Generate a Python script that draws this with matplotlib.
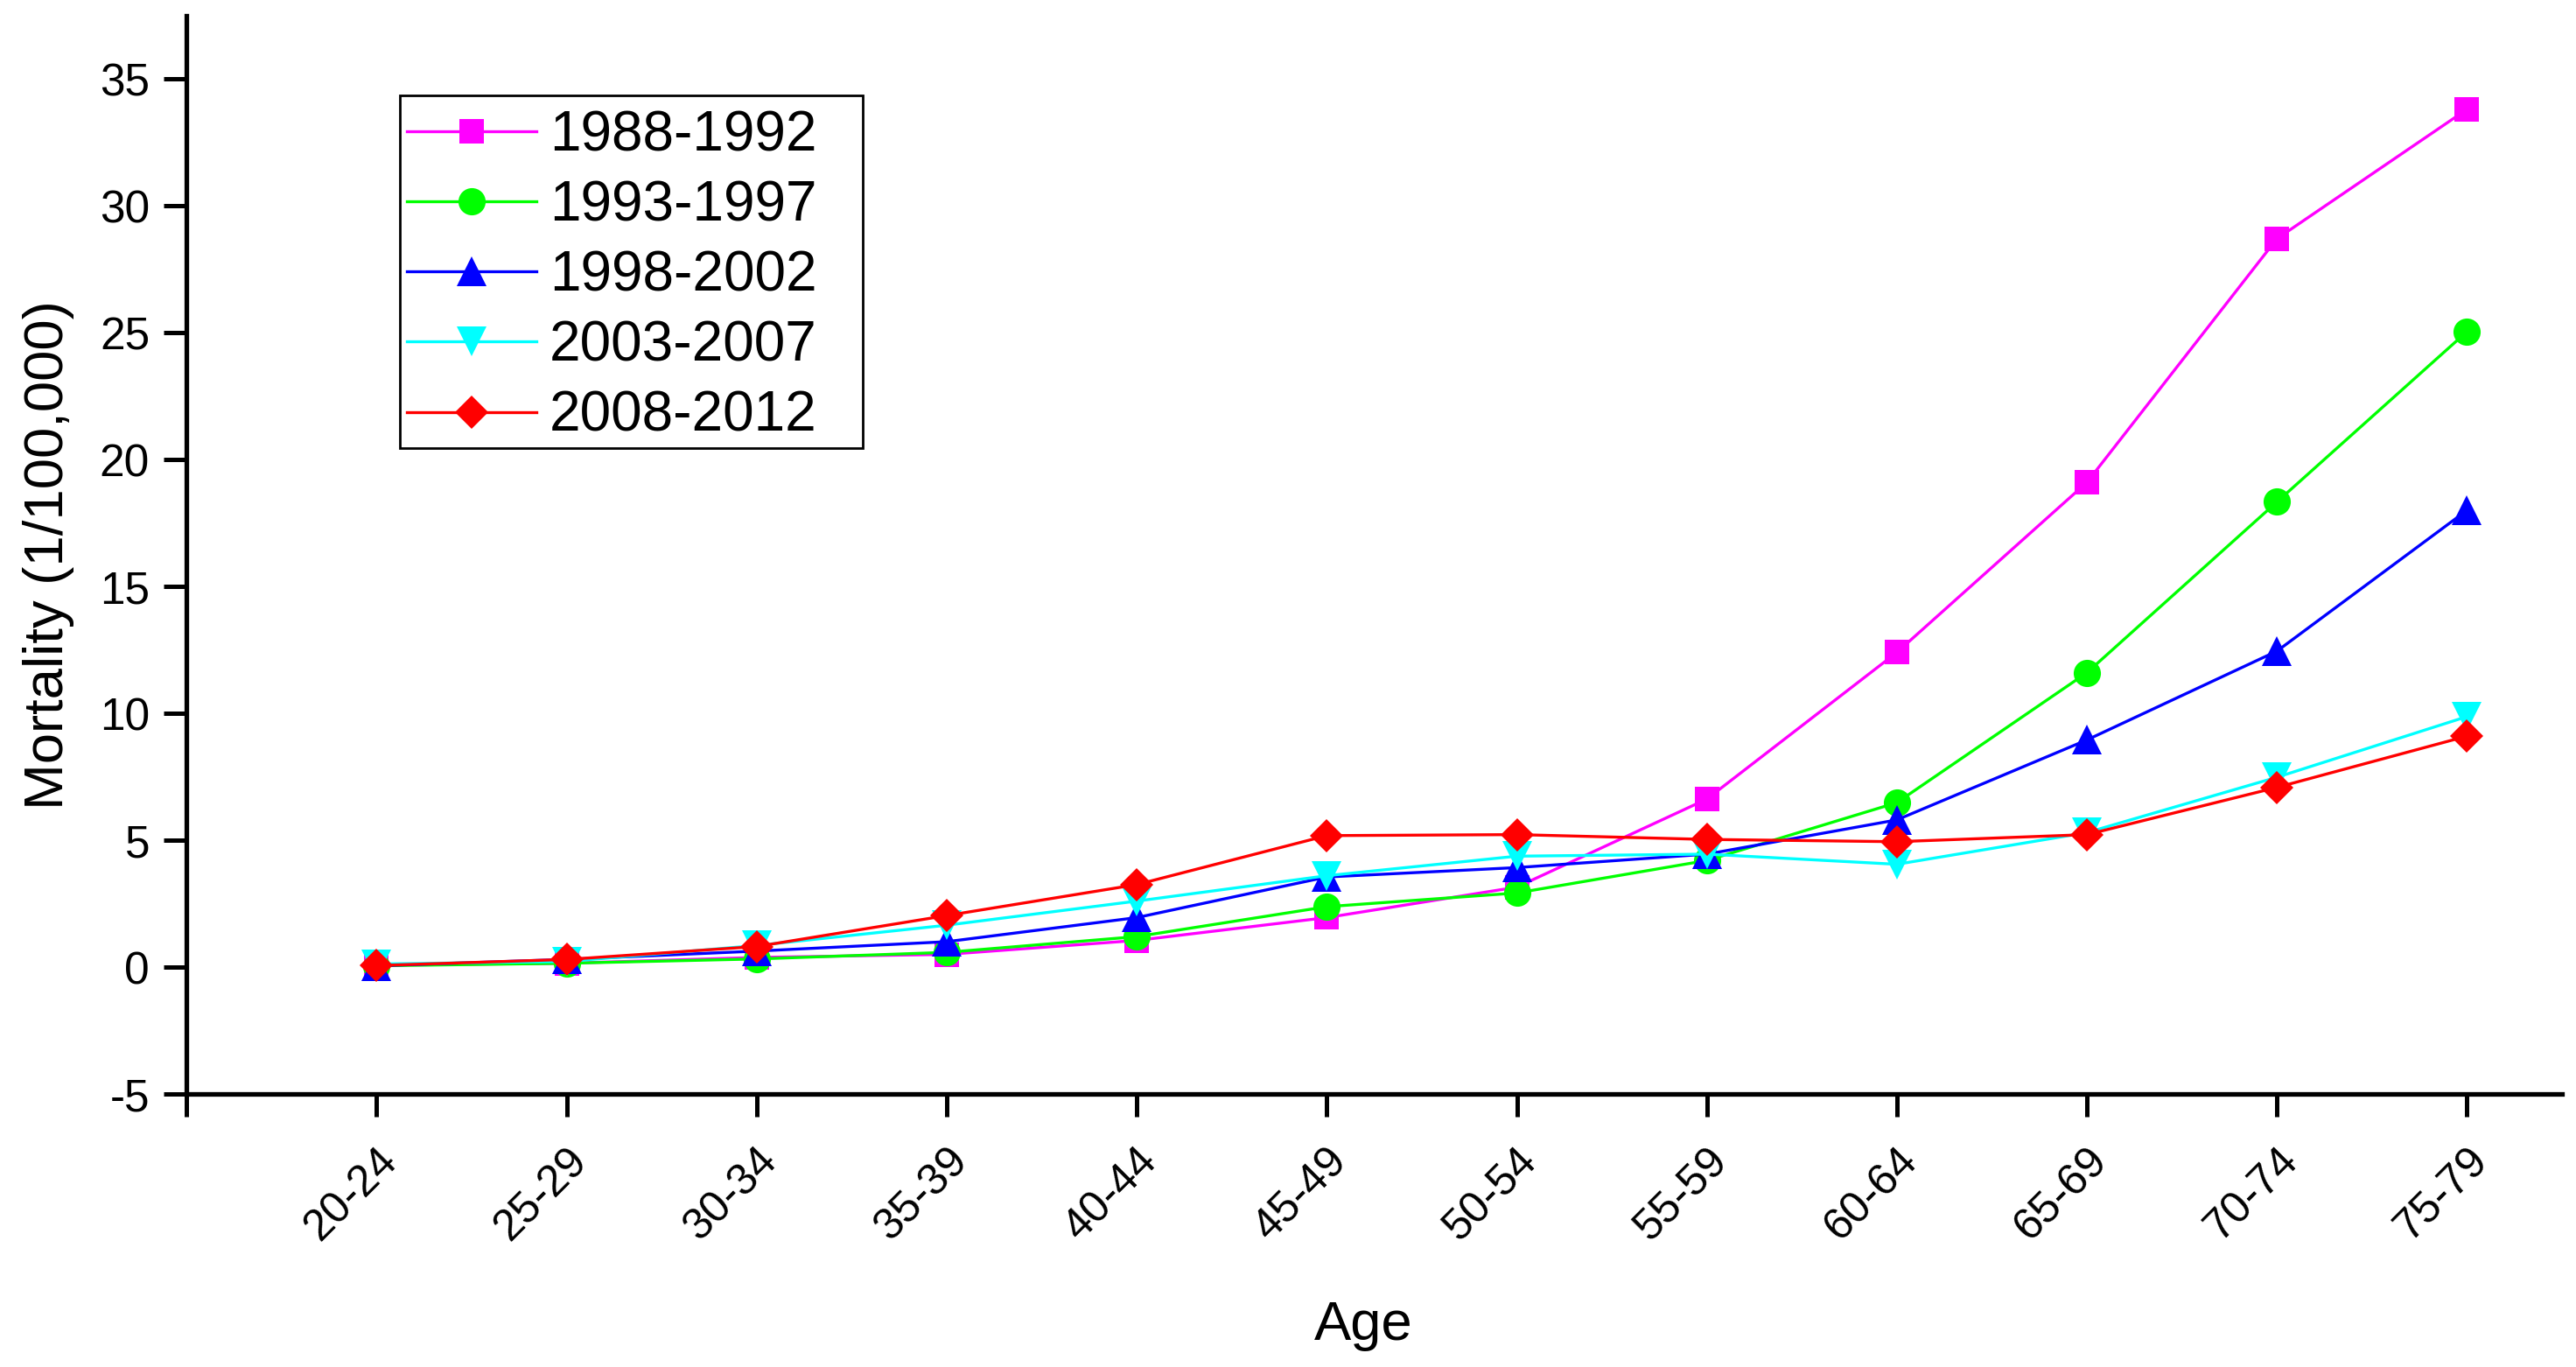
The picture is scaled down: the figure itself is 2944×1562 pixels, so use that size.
import numpy as np
import matplotlib
matplotlib.use('Agg')
import matplotlib.pyplot as plt
import matplotlib.transforms as mtransforms
from matplotlib.patches import Rectangle

plt.rcParams['font.family'] = ['Liberation Sans', 'DejaVu Sans']
plt.rcParams['axes.unicode_minus'] = False

# age groups and mortality per 100,000 for each period
ages = ['20-24', '25-29', '30-34', '35-39', '40-44', '45-49',
        '50-54', '55-59', '60-64', '65-69', '70-74', '75-79']
p1988 = [0.08, 0.15, 0.38, 0.50, 1.05, 1.95, 3.15, 6.62, 12.4, 19.1, 28.7, 33.8]
p1993 = [0.05, 0.15, 0.32, 0.58, 1.20, 2.38, 2.92, 4.20, 6.48, 11.6, 18.33, 25.04]
p1998 = [0.05, 0.30, 0.63, 1.00, 1.95, 3.55, 3.92, 4.45, 5.80, 8.95, 12.45, 18.0]
p2003 = [0.12, 0.22, 0.85, 1.65, 2.60, 3.60, 4.37, 4.45, 4.05, 5.30, 7.48, 9.87]
p2008 = [0.06, 0.30, 0.81, 2.03, 3.25, 5.18, 5.22, 5.03, 4.94, 5.22, 7.08, 9.10]

series = [
    ('1988-1992', p1988, '#FF00FF', 's', 9.8),
    ('1993-1997', p1993, '#00FF00', 'o', 11.2),
    ('1998-2002', p1998, '#0000FF', '^', 12.5),
    ('2003-2007', p2003, '#00FFFF', 'v', 12.5),
    ('2008-2012', p2008, '#FF0000', 'D', 9.5),
]

fig = plt.figure(figsize=(14.72, 7.81), dpi=200)
ax = fig.add_axes([0.07245, 0.19974, 0.92211, 0.78880])

x = np.arange(1, len(ages) + 1)
for label, vals, col, mk, ms in series:
    ax.plot(x, vals, color=col, marker=mk, markersize=ms, linewidth=1.2,
            markeredgewidth=0, label=label, clip_on=False)

ax.set_xlim(0, 12.5)
ax.set_ylim(-5, 37.49)
ax.set_yticks(np.arange(-5, 36, 5))
ax.set_xticks(np.arange(0, 13))
ax.set_xticklabels([''] + ages, rotation=45, ha='right', va='top',
                   rotation_mode='anchor')
# nudge the rotated labels a little to the right, as in the original
offset = mtransforms.ScaledTranslation(7 / 200, 0, fig.dpi_scale_trans)
for lbl in ax.get_xticklabels():
    lbl.set_transform(lbl.get_transform() + offset)

for side in ['top', 'right']:
    ax.spines[side].set_visible(False)
for side in ['left', 'bottom']:
    ax.spines[side].set_linewidth(1.9)

ax.tick_params(axis='both', direction='out', length=9.2, width=1.8)
ax.tick_params(axis='x', pad=10, labelsize=18)
ax.tick_params(axis='y', pad=6, labelsize=18.5)

ax.set_ylabel('Mortality (1/100,000)', fontsize=22.8)
ax.yaxis.set_label_coords(-0.0473, 0.5)
ax.set_xlabel('Age', fontsize=22.8, va='baseline')
ax.xaxis.set_label_coords(0.4953, -0.2278)

# legend without its own frame; box drawn separately to match the original layout
leg = ax.legend(loc='center left', bbox_to_anchor=(465 / 2944, 1 - 315.5 / 1562),
                bbox_transform=fig.transFigure, fontsize=23,
                frameon=False, borderpad=0, labelspacing=0.316,
                handlelength=2.31, handletextpad=0.24, borderaxespad=0)
fig.patches.append(Rectangle((0.1551, 0.6724), 0.1798, 0.2578,
                             transform=fig.transFigure, fill=False,
                             edgecolor='black', linewidth=1.0))

fig.savefig('out.png', dpi=200)
